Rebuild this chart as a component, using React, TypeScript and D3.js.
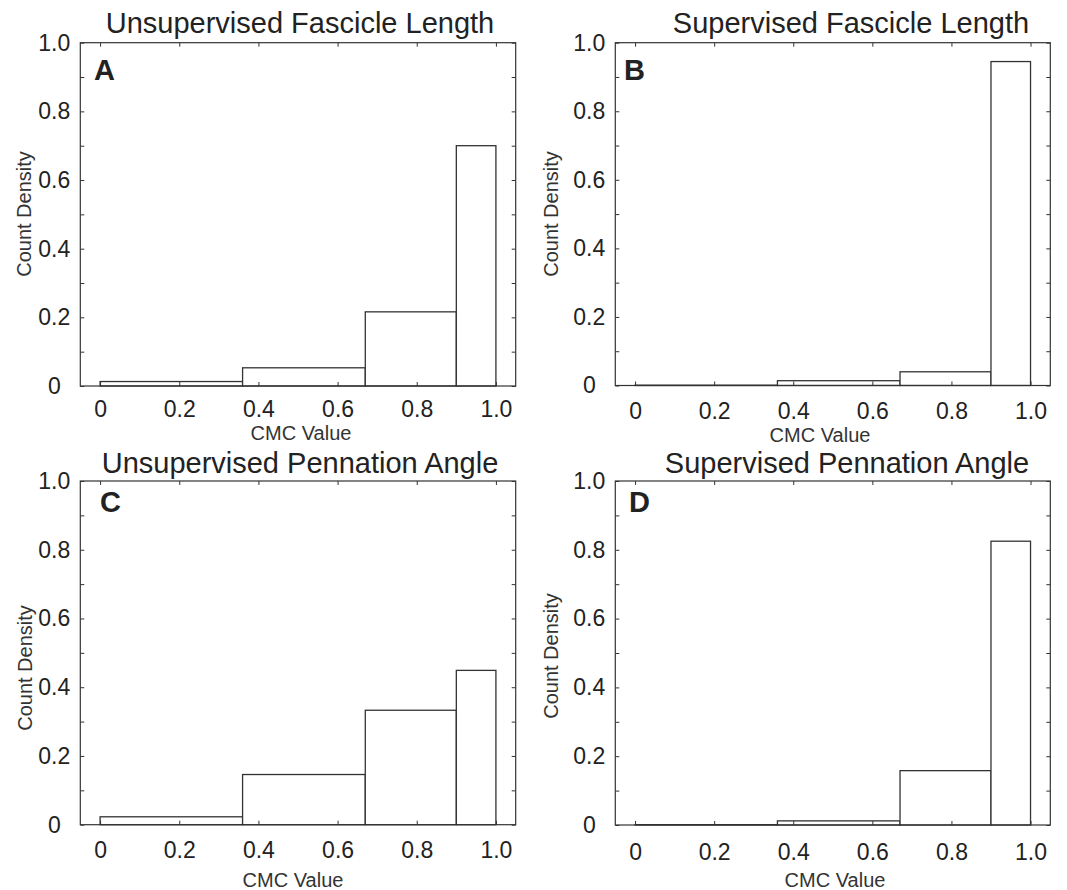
import React, { useEffect, useRef } from "react";
import * as d3 from "d3";

// bin edges shared by all four histograms
const binEdges = [0, 0.36, 0.67, 0.9, 1.0];

const panelTitles = [
  "Unsupervised Fascicle Length",
  "Supervised Fascicle Length",
  "Unsupervised Pennation Angle",
  "Supervised Pennation Angle",
];
const panelLetters = ["A", "B", "C", "D"];

// count density per bin
const unsupFascicle = [0.013, 0.053, 0.216, 0.7];
const supFascicle = [0.001, 0.014, 0.04, 0.945];
const unsupPennation = [0.023, 0.146, 0.333, 0.449];
const supPennation = [0.001, 0.012, 0.158, 0.825];

const xTickValues = [0, 0.2, 0.4, 0.6, 0.8, 1.0];
const xTickLabels = ["0", "0.2", "0.4", "0.6", "0.8", "1.0"];
const yTickValues = [0, 0.1, 0.2, 0.3, 0.4, 0.5, 0.6, 0.7, 0.8, 0.9, 1.0];
const yTickLabels = ["0", "", "0.2", "", "0.4", "", "0.6", "", "0.8", "", "1.0"];

const xLabel = "CMC Value";
const yLabel = "Count Density";

const seriesList = [unsupFascicle, supFascicle, unsupPennation, supPennation];

// page layout of each panel (axes box in px, text anchors)
const layout = [
  { left: 80.3, top: 42.7, right: 515.7, bottom: 386, tickPad: 15, titleX: 300, titleY: 33, letterX: 94, letterY: 80, xLabelX: 301, xLabelY: 440, yLabelX: 31, yLabelY: 214 },
  { left: 615.3, top: 42.7, right: 1050.3, bottom: 385.5, tickPad: 17, titleX: 851, titleY: 33, letterX: 624, letterY: 80, xLabelX: 820, xLabelY: 442, yLabelX: 558, yLabelY: 214 },
  { left: 80.3, top: 481, right: 515.7, bottom: 824.7, tickPad: 17, titleX: 300, titleY: 473, letterX: 100, letterY: 512, xLabelX: 293, xLabelY: 887, yLabelX: 32, yLabelY: 668 },
  { left: 615.3, top: 481, right: 1050.3, bottom: 825, tickPad: 19, titleX: 847, titleY: 473, letterX: 629, letterY: 512, xLabelX: 835, xLabelY: 887, yLabelX: 558, yLabelY: 656 },
];

const FONT = "'Liberation Sans', Arial, Helvetica, sans-serif";
const INK = "#333";

const App = () => {
  const ref = useRef<SVGSVGElement>(null);

  useEffect(() => {
    const svg = d3.select(ref.current);
    svg.selectAll("*").remove();

    seriesList.forEach((values, i) => {
      const L = layout[i];
      const x = d3.scaleLinear().domain([-0.05, 1.05]).range([L.left, L.right]);
      const y = d3.scaleLinear().domain([0, 1]).range([L.bottom, L.top]);
      const g = svg.append("g");

      // bars
      const bins = values.map((v, k) => ({ x0: binEdges[k], x1: binEdges[k + 1], v }));
      g.selectAll("rect.bar")
        .data(bins)
        .enter()
        .append("rect")
        .attr("class", "bar")
        .attr("x", (d) => x(d.x0))
        .attr("y", (d) => y(d.v))
        .attr("width", (d) => x(d.x1) - x(d.x0))
        .attr("height", (d) => y(0) - y(d.v))
        .attr("fill", "#fff")
        .attr("stroke", INK)
        .attr("stroke-width", 1.3);

      // bottom axis with labels
      const bottom = g
        .append("g")
        .attr("transform", `translate(0,${L.bottom})`)
        .call(
          d3
            .axisBottom(x)
            .tickValues(xTickValues)
            .tickFormat((_, k) => xTickLabels[k])
            .tickSize(-4)
            .tickSizeOuter(0)
            .tickPadding(L.tickPad)
        );
      // top ticks
      const top = g
        .append("g")
        .attr("transform", `translate(0,${L.top})`)
        .call(d3.axisTop(x).tickValues(xTickValues).tickFormat(() => "").tickSize(-4).tickSizeOuter(0));
      // left axis with labels
      const left = g
        .append("g")
        .attr("transform", `translate(${L.left},0)`)
        .call(
          d3
            .axisLeft(y)
            .tickValues(yTickValues)
            .tickFormat((_, k) => yTickLabels[k])
            .tickSize(-4)
            .tickSizeOuter(0)
            .tickPadding(26)
        );
      left.selectAll("text").attr("text-anchor", "middle");
      // right ticks
      const right = g
        .append("g")
        .attr("transform", `translate(${L.right},0)`)
        .call(d3.axisRight(y).tickValues(yTickValues).tickFormat(() => "").tickSize(-4).tickSizeOuter(0));

      [bottom, top, left, right].forEach((a) => {
        a.select(".domain").remove();
        a.selectAll("line").attr("stroke", INK);
        a.selectAll("text").attr("font-family", FONT).attr("font-size", 23).attr("fill", "#222");
      });

      // axes box
      g.append("rect")
        .attr("x", L.left)
        .attr("y", L.top)
        .attr("width", L.right - L.left)
        .attr("height", L.bottom - L.top)
        .attr("fill", "none")
        .attr("stroke", INK)
        .attr("stroke-width", 1.2);

      // title
      g.append("text")
        .attr("x", L.titleX)
        .attr("y", L.titleY)
        .attr("text-anchor", "middle")
        .attr("font-family", FONT)
        .attr("font-size", 29)
        .attr("fill", "#222")
        .text(panelTitles[i]);

      // panel letter
      g.append("text")
        .attr("x", L.letterX)
        .attr("y", L.letterY)
        .attr("font-family", FONT)
        .attr("font-weight", "bold")
        .attr("font-size", 29)
        .attr("fill", "#222")
        .text(panelLetters[i]);

      // x-axis label
      g.append("text")
        .attr("x", L.xLabelX)
        .attr("y", L.xLabelY)
        .attr("text-anchor", "middle")
        .attr("font-family", FONT)
        .attr("font-size", 20)
        .attr("fill", "#333")
        .text(xLabel);

      // y-axis label
      g.append("text")
        .attr("transform", `translate(${L.yLabelX},${L.yLabelY}) rotate(-90)`)
        .attr("text-anchor", "middle")
        .attr("font-family", FONT)
        .attr("font-size", 20)
        .attr("fill", "#333")
        .text(yLabel);
    });
  }, []);

  return (
    <svg
      ref={ref}
      width={1067}
      height={890}
      style={{ position: "absolute", left: 0, top: 0, background: "#fff" }}
    />
  );
};

export default App;
